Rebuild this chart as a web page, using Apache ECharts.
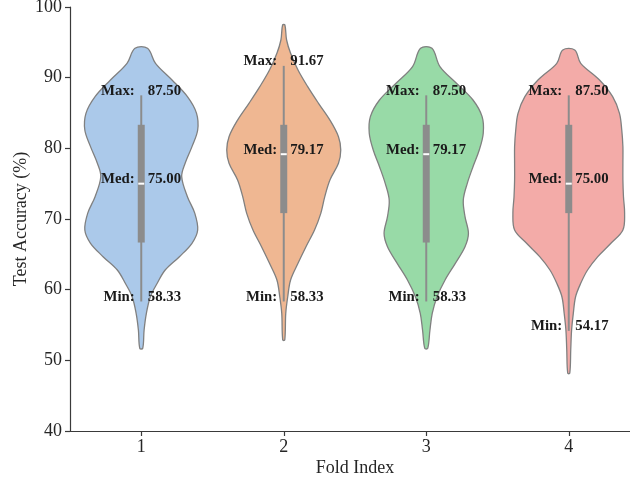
<!DOCTYPE html>
<html>
<head>
<meta charset="utf-8">
<script src="https://cdn.jsdelivr.net/npm/echarts@6/dist/echarts.min.js"></script>
<style>
  html, body { margin: 0; padding: 0; background: #fff; overflow: hidden; }
  /* the plotting area runs a little past the right edge of the window */
  #chart { width: 640px; height: 485px; }
</style>
</head>
<body>
<div id="chart"></div>
<script>
// Fold labels on the x axis
const foldLabels = ['1', '2', '3', '4'];

// Summary statistics of test accuracy (%) per fold
const minVals = [58.33, 58.33, 58.33, 54.17];
const q1Vals  = [66.67, 70.83, 66.67, 70.83];
const medVals = [75.00, 79.17, 79.17, 75.00];
const q3Vals  = [83.33, 83.33, 83.33, 83.33];
const maxVals = [87.50, 91.67, 87.50, 87.50];

// Kernel density outline per fold: accuracy levels (top to bottom) and relative density (1 = widest)
const fold1Levels  = [94.15, 92.03, 89.67, 87.31, 84.95, 82.59, 80.24, 77.88, 75.99, 73.16, 70.80, 68.44, 66.56, 64.67, 62.78, 60.90, 59.01, 56.65, 54.29, 51.70];
const fold1Density = [0.11, 0.25, 0.54, 0.81, 0.97, 0.99, 0.89, 0.77, 0.71, 0.81, 0.94, 0.99, 0.89, 0.67, 0.42, 0.28, 0.16, 0.09, 0.05, 0.026];

const fold2Levels  = [97.45, 95.33, 93.45, 91.08, 88.73, 86.37, 84.00, 81.65, 79.76, 77.88, 75.52, 73.16, 70.80, 68.44, 66.08, 63.73, 61.37, 59.00, 56.65, 52.88];
const fold2Density = [0.02, 0.05, 0.12, 0.25, 0.42, 0.61, 0.81, 0.96, 1.00, 0.96, 0.81, 0.72, 0.65, 0.54, 0.39, 0.25, 0.12, 0.07, 0.035, 0.018];

const fold3Levels  = [94.15, 91.56, 89.20, 86.84, 84.48, 82.13, 79.76, 77.40, 75.05, 72.69, 70.33, 67.98, 66.08, 63.73, 61.37, 59.00, 56.65, 54.29, 51.70];
const fold3Density = [0.10, 0.24, 0.53, 0.82, 0.98, 1.00, 0.93, 0.82, 0.72, 0.65, 0.68, 0.74, 0.68, 0.51, 0.33, 0.19, 0.105, 0.065, 0.026];

const fold4Levels  = [93.92, 92.03, 89.67, 87.31, 84.95, 82.59, 80.24, 77.88, 75.52, 73.16, 70.80, 68.44, 66.56, 64.67, 62.78, 60.90, 59.00, 56.65, 54.29, 51.50, 48.17];
const fold4Density = [0.105, 0.21, 0.54, 0.77, 0.89, 0.93, 0.95, 0.95, 0.95, 0.96, 0.98, 0.95, 0.74, 0.51, 0.33, 0.21, 0.12, 0.08, 0.05, 0.035, 0.018];

const levelSets = [fold1Levels, fold2Levels, fold3Levels, fold4Levels];
const densitySets = [fold1Density, fold2Density, fold3Density, fold4Density];

const fillColors = ['#abc9ea', '#efb792', '#98daa7', '#f3aba8'];

const chart = echarts.init(document.getElementById('chart'), null, { renderer: 'canvas' });

const serif = "'Liberation Serif', 'Times New Roman', 'DejaVu Serif', serif";
const labelFont = 'bold 14.8px ' + serif;
const axisFontSize = 18;

function renderViolin(params, api) {
  const i = api.value(0);
  const band = api.size([1, 0])[0];
  const halfMax = band * 0.4;
  const cx = api.coord([i, 0])[0];
  const levels = levelSets[i];
  const dens = densitySets[i];

  const right = [];
  const left = [];
  for (let k = 0; k < levels.length; k++) {
    const y = api.coord([i, levels[k]])[1];
    right.push([cx + dens[k] * halfMax, y]);
    left.push([cx - dens[k] * halfMax, y]);
  }
  const outline = right.concat(left.reverse());

  const yMin = api.coord([i, api.value(1)])[1];
  const yQ1 = api.coord([i, api.value(2)])[1];
  const yMed = api.coord([i, api.value(3)])[1];
  const yQ3 = api.coord([i, api.value(4)])[1];
  const yMax = api.coord([i, api.value(5)])[1];

  const gap = 6.5;
  const makeLabel = (name, val, y) => [
    {
      type: 'text', z2: 10,
      style: { text: name, x: cx - gap, y: y + 3, align: 'right', verticalAlign: 'bottom', font: labelFont, fill: '#1a1a1a' }
    },
    {
      type: 'text', z2: 10,
      style: { text: val.toFixed(2), x: cx + gap, y: y + 3, align: 'left', verticalAlign: 'bottom', font: labelFont, fill: '#1a1a1a' }
    }
  ];

  return {
    type: 'group',
    children: [
      {
        type: 'polygon',
        z2: 1,
        shape: { points: outline, smooth: 0.35 },
        style: { fill: fillColors[i], stroke: '#808080', lineWidth: 1.3 }
      },
      {
        type: 'line', z2: 2,
        shape: { x1: cx, y1: yMin, x2: cx, y2: yMax },
        style: { stroke: '#8c8c8c', lineWidth: 2 }
      },
      {
        type: 'rect', z2: 3,
        shape: { x: cx - 3.5, y: yQ3, width: 7, height: yQ1 - yQ3 },
        style: { fill: '#8c8c8c' }
      },
      {
        type: 'line', z2: 4,
        shape: { x1: cx - 3, y1: yMed, x2: cx + 3, y2: yMed },
        style: { stroke: '#ffffff', lineWidth: 2 }
      }
    ]
      .concat(makeLabel('Max:', api.value(5), yMax))
      .concat(makeLabel('Med:', api.value(3), yMed))
      .concat(makeLabel('Min:', api.value(1), yMin))
  };
}

const violinData = foldLabels.map((_, i) => [i, minVals[i], q1Vals[i], medVals[i], q3Vals[i], maxVals[i]]);

const axisColor = '#3a3a3a';
const textColor = '#262626';

chart.setOption({
  animation: false,
  backgroundColor: '#ffffff',
  grid: { left: 70, right: 0, top: 7, bottom: 54, containLabel: false, outerBoundsMode: 'none' },
  xAxis: {
    type: 'category',
    data: foldLabels,
    boundaryGap: true,
    name: 'Fold Index',
    nameLocation: 'middle',
    nameGap: 28,
    nameMoveOverlap: false,
    nameTextStyle: { fontFamily: serif, fontSize: axisFontSize, color: textColor },
    axisLine: { show: true, lineStyle: { color: axisColor, width: 1.2 } },
    axisTick: { show: true, alignWithLabel: true, length: 5, lineStyle: { color: axisColor, width: 1.2 } },
    axisLabel: { fontFamily: serif, fontSize: axisFontSize, color: textColor, margin: 7 },
    splitLine: { show: false }
  },
  yAxis: {
    type: 'value',
    min: 40,
    max: 100,
    interval: 10,
    name: 'Test Accuracy (%)',
    nameLocation: 'middle',
    nameGap: 40,
    nameRotate: 90,
    nameMoveOverlap: false,
    nameTextStyle: { fontFamily: serif, fontSize: axisFontSize, color: textColor },
    axisLine: { show: true, lineStyle: { color: axisColor, width: 1.2 } },
    axisTick: { show: true, length: 5, lineStyle: { color: axisColor, width: 1.2 } },
    axisLabel: { fontFamily: serif, fontSize: axisFontSize, color: textColor, margin: 8 },
    splitLine: { show: false }
  },
  series: [{
    type: 'custom',
    renderItem: renderViolin,
    encode: { x: 0, y: [1, 5] },
    data: violinData,
    clip: false
  }]
});
</script>
</body>
</html>
